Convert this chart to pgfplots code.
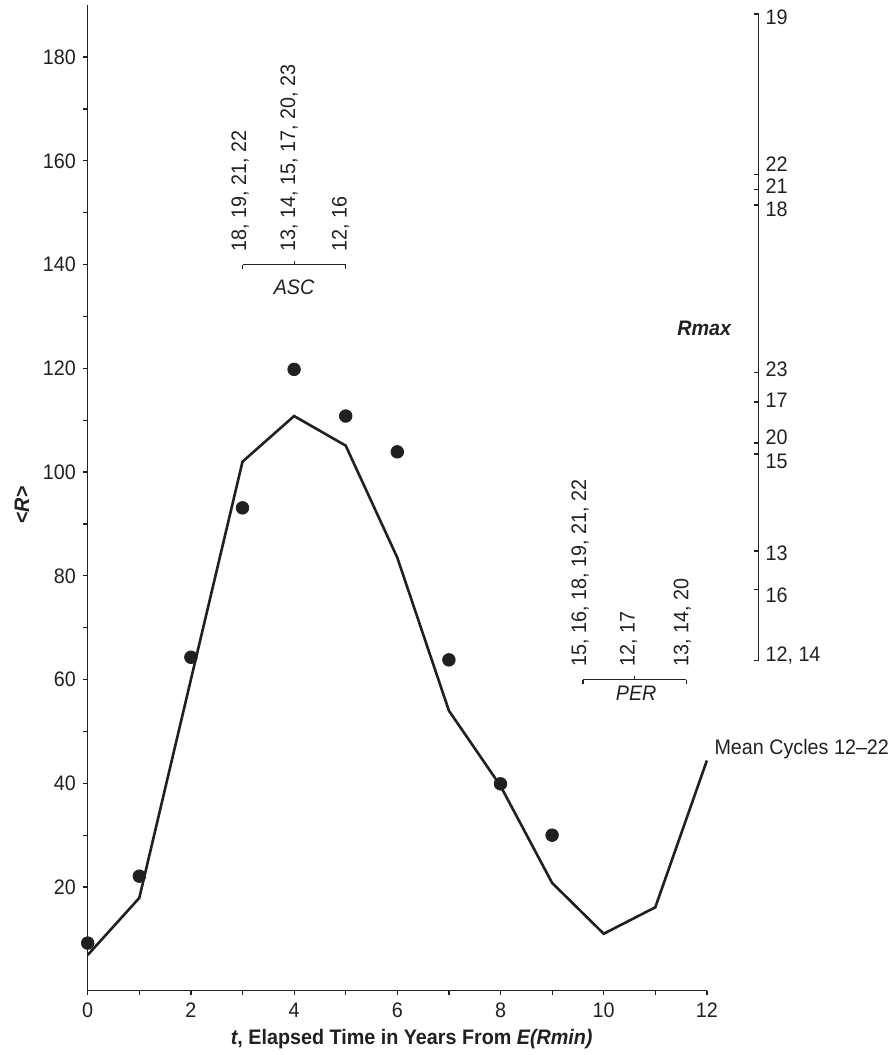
\documentclass[border=0pt]{standalone}
\usepackage{fontspec}
\setmainfont{Liberation Sans}[FakeStretch=0.94]
\usepackage{pgfplots}
\pgfplotsset{compat=1.18}
\definecolor{ink}{HTML}{231F20}
\begin{document}
\fontsize{10.5pt}{12pt}\selectfont
\begin{tikzpicture}[font=\fontsize{10.5pt}{12pt}\selectfont, color=ink]
\begin{axis}[
  at={(0,0)}, anchor=south west,
  scale only axis, width=309.6pt, height=492.8pt,
  xmin=0, xmax=12, ymin=0, ymax=190,
  axis lines=left, axis line style={-, ink, line width=0.65pt},
  xtick={0,2,...,12}, minor xtick={1,3,...,11},
  ytick={20,40,...,180}, minor ytick={10,30,...,170},
  tick align=outside, major tick length=2.2pt, minor tick length=2.2pt,
  tick style={ink, line width=0.6pt},
  /pgf/number format/assume math mode=true,
  ticklabel style={font=\fontsize{10.5pt}{12pt}\selectfont, text=ink},
  clip=false,
  xlabel={\textbf{\textit{t}, Elapsed Time in Years From \textit{E(Rmin)}}},
  xlabel style={at={(axis description cs:0.5233,0)}, anchor=base, yshift=-27pt},
  ylabel={\textbf{<\textit{R}>}},
  ylabel style={at={(axis description cs:-0.1061,0.4928)}, anchor=center},
]
% mean cycle curve
\addplot[ink, line width=1.3pt, mark=none] coordinates {
 (0,6.9) (1,17.9) (2,60) (3,102) (4,110.8) (5,105.1) (6,83.5)
 (7,54) (8,39.5) (9,20.8) (10,11) (11,16.1) (12,44.4)};
% dots
\addplot[only marks, mark=*, mark size=3.15pt, ink, mark options={fill=ink, draw=ink}] coordinates {
 (0,9.2) (1,22.1) (2,64.3) (3,93.1) (4,119.8) (5,110.8) (6,103.9)
 (7,63.8) (8,39.9) (9,30)};
% right-hand Rmax axis
\addplot[ink, line width=0.65pt, mark=none] coordinates {(13,63.7) (13,188.3)};
\addplot[only marks, mark=-, mark size=1.1pt, mark options={xshift=-1.1pt, line width=0.6pt, draw=ink}] coordinates {
 (13,188.3) (13,157.3) (13,154.4) (13,151.5) (13,119.2) (13,113.5)
 (13,105.6) (13,103.5) (13,84.8) (13,77.3) (13,63.7)};
\node[anchor=west, inner sep=0pt] at (axis cs:13.13,187.7) {19};
\node[anchor=west, inner sep=0pt] at (axis cs:13.13,159.4) {22};
\node[anchor=west, inner sep=0pt] at (axis cs:13.13,155.2) {21};
\node[anchor=west, inner sep=0pt] at (axis cs:13.13,150.6) {18};
\node[anchor=west, inner sep=0pt] at (axis cs:13.13,119.8) {23};
\node[anchor=west, inner sep=0pt] at (axis cs:13.13,113.8) {17};
\node[anchor=west, inner sep=0pt] at (axis cs:13.13,106.7) {20};
\node[anchor=west, inner sep=0pt] at (axis cs:13.13,102.1) {15};
\node[anchor=west, inner sep=0pt] at (axis cs:13.13,84.4) {13};
\node[anchor=west, inner sep=0pt] at (axis cs:13.13,76.2) {16};
\node[anchor=west, inner sep=0pt] at (axis cs:13.13,64.6) {12, 14};
\node[anchor=east, inner sep=0pt] at (axis cs:12.49,127.7) {\textbf{\textit{Rmax}}};
\node[anchor=west, inner sep=0pt] at (axis cs:12.14,46.6) {Mean Cycles 12--22};
% ASC bracket
\draw[ink, line width=0.6pt] (axis cs:3,140) -- (axis cs:5,140);
\draw[ink, line width=0.6pt] (axis cs:3,140) -- ++(0,-2pt);
\draw[ink, line width=0.6pt] (axis cs:5,140) -- ++(0,-2pt);
\draw[ink, line width=0.6pt] (axis cs:4,140) -- ++(0,2pt);
\node at (axis cs:4,135.7) {\textit{ASC}};
\node[rotate=90, anchor=base west, inner sep=0pt] at (axis cs:3.07,142.5) {18, 19, 21, 22};
\node[rotate=90, anchor=base west, inner sep=0pt] at (axis cs:4.02,142.5) {13, 14, 15, 17, 20, 23};
\node[rotate=90, anchor=base west, inner sep=0pt] at (axis cs:5.02,142.5) {12, 16};
% PER bracket
\draw[ink, line width=0.6pt] (axis cs:9.6,60) -- (axis cs:11.6,60);
\draw[ink, line width=0.6pt] (axis cs:9.6,60) -- ++(0,-2pt);
\draw[ink, line width=0.6pt] (axis cs:11.6,60) -- ++(0,-2pt);
\draw[ink, line width=0.6pt] (axis cs:10.6,60) -- ++(0,2pt);
\node at (axis cs:10.63,57.4) {\textit{PER}};
\node[rotate=90, anchor=base west, inner sep=0pt] at (axis cs:9.66,62.5) {15, 16, 18, 19, 21, 22};
\node[rotate=90, anchor=base west, inner sep=0pt] at (axis cs:10.6,62.5) {12, 17};
\node[rotate=90, anchor=base west, inner sep=0pt] at (axis cs:11.64,62.5) {13, 14, 20};
\end{axis}
\pgfresetboundingbox
\path[use as bounding box] (-43.85pt,-32.1pt) rectangle (401.65pt,495.4pt);
\end{tikzpicture}
\end{document}
